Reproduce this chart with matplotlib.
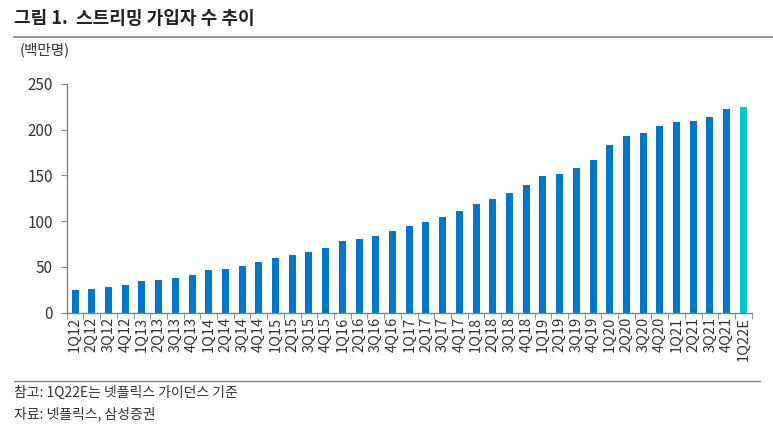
import matplotlib.pyplot as plt
from matplotlib.ticker import FixedLocator

plt.rcParams['font.family'] = ['Noto Sans CJK KR', 'DejaVu Sans']

# Quarters and subscribers (millions)
quarters = [f"{q}Q{y}" for y in range(12, 22) for q in range(1, 5)] + ["1Q22E"]
subs = [24.7, 25.8, 27.7, 30.6, 34.6, 35.7, 38.2, 41.5,
        46.6, 48.0, 50.9, 54.9, 60.0, 63.0, 66.2, 71.0,
        77.9, 80.1, 83.7, 89.5, 94.6, 99.3, 104.1, 111.0,
        119.0, 124.5, 130.3, 139.4, 148.8, 151.7, 158.3, 167.0,
        182.7, 192.9, 195.8, 203.8, 207.8, 209.2, 213.6, 222.0,
        224.2]
blue = "#0077c8"
teal = "#00c8cc"
grey = "#808080"
txt = "#333333"


def main():
    fig = plt.figure(figsize=(7.73, 4.28), dpi=100)
    ax = fig.add_axes([0.0863, 0.2694, 0.8862, 0.535])

    colors = [blue] * (len(subs) - 1) + [teal]
    x = range(len(subs))
    ax.bar(x, subs, width=0.42, color=colors, edgecolor="none")

    ax.set_ylim(0, 250)
    ax.set_xlim(-0.5, len(subs) - 0.5)
    ax.set_yticks(range(0, 251, 50))
    ax.set_xticks(list(x))
    ax.set_xticklabels(quarters, rotation=90, fontsize=10.5, color=txt)
    ax.xaxis.set_minor_locator(FixedLocator([i - 0.5 for i in range(len(subs) + 1)]))
    ax.tick_params(axis="x", which="major", length=0, pad=3)
    ax.tick_params(axis="x", which="minor", length=4, color=grey, direction="out")
    ax.tick_params(axis="y", length=4, color=grey, labelsize=11, labelcolor=txt, pad=6)

    for side in ("top", "right"):
        ax.spines[side].set_visible(False)
    for side in ("left", "bottom"):
        ax.spines[side].set_color(grey)
        ax.spines[side].set_linewidth(1)

    # Header and footer
    fig.text(14 / 773, 1 - 18 / 428, "그림 1.  스트리밍 가입자 수 추이", fontsize=13,
             fontweight="bold", color="#222222", va="center")
    fig.add_artist(plt.Line2D([14 / 773, 1.0], [1 - 37 / 428] * 2, color=grey, lw=1.2))
    fig.text(20 / 773, 1 - 50 / 428, "(백만명)", fontsize=10.5, color=txt, va="center")
    fig.add_artist(plt.Line2D([14 / 773, 760 / 773], [1 - 381 / 428] * 2, color=grey, lw=1))
    fig.text(14 / 773, 1 - 393 / 428, "참고: 1Q22E는 넷플릭스 가이던스 기준", fontsize=10,
             color=txt, va="center")
    fig.text(14 / 773, 1 - 414 / 428, "자료: 넷플릭스, 삼성증권", fontsize=10,
             color=txt, va="center")

    fig.savefig("out.png", dpi=100)


main()
